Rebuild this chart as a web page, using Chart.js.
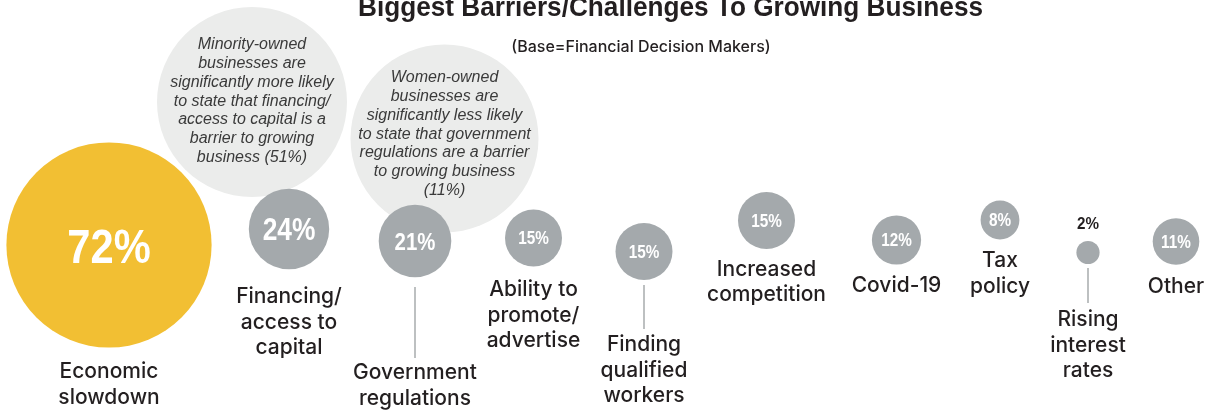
<!DOCTYPE html>
<html>
<head>
<meta charset="utf-8">
<script src="https://cdn.jsdelivr.net/npm/chart.js@4.4.1/dist/chart.umd.min.js"></script>
<style>
  html, body { margin: 0; padding: 0; background: #fff; }
  #wrap { width: 1209px; height: 410px; position: relative; }
</style>
</head>
<body>
<div id="wrap"><canvas id="barriers"></canvas></div>
<script>
// Share of financial decision makers naming each barrier (%)
const categories = [
  ['Economic', 'slowdown'],
  ['Financing/', 'access to', 'capital'],
  ['Government', 'regulations'],
  ['Ability to', 'promote/', 'advertise'],
  ['Finding', 'qualified', 'workers'],
  ['Increased', 'competition'],
  ['Covid-19'],
  ['Tax', 'policy'],
  ['Rising', 'interest', 'rates'],
  ['Other']
];
const shares = [72, 24, 21, 15, 15, 15, 12, 8, 2, 11];

// side notes shown in the light grey circles
const callouts = [
  ['Minority-owned', 'businesses are', 'significantly more likely', 'to state that financing/',
   'access to capital is a', 'barrier to growing', 'business (51%)'],
  ['Women-owned', 'businesses are', 'significantly less likely', 'to state that government',
   'regulations are a barrier', 'to growing business', '(11%)']
];

const titleText = 'Biggest Barriers/Challenges To Growing Business';
const subtitleText = '(Base=Financial Decision Makers)';

// layout, in canvas pixels (the scales run 0..1209 / 0..410)
const bubbleX = [109, 289, 415, 533.5, 644, 766.5, 896.5, 1000, 1088, 1176];
const bubbleY = [245, 229, 241, 238, 251.5, 220.5, 240, 220, 252.5, 241.5];
const labelTop = [372, 297, 373, 290, 345, 269.5, 286, 261, 320, 287];
const leaders = { 2: [287, 358], 4: [285, 329], 8: [268, 303] };
const valueFont = [49, 31, 24, 18, 18, 18, 18, 18, 16, 18];
const calloutX = [252, 444.5];
const calloutY = [102, 138.5];
const calloutR = [95, 94];
const calloutTextY = [45, 78];

const YELLOW = '#F2BF33';
const GREY = '#A4A9AC';
const PALE = '#EBECEB';
const INK = '#231F20';

function radiusFor(v) {
  return 9 + 1.3 * v;
}

// draws text squeezed horizontally to mimic a condensed face
function squeezed(ctx, text, x, y, sx) {
  ctx.save();
  ctx.translate(x, y);
  ctx.scale(sx, 1);
  ctx.fillText(text, 0, 0);
  ctx.restore();
}

const labelPlugin = {
  id: 'barrierLabels',
  afterDatasetsDraw(chart) {
    const ctx = chart.ctx;
    const bubbles = chart.getDatasetMeta(0).data;
    const notes = chart.getDatasetMeta(1).data;

    ctx.save();
    ctx.textAlign = 'center';

    // title, clipped at the top edge
    ctx.fillStyle = INK;
    ctx.textBaseline = 'alphabetic';
    ctx.font = 'bold 28px "Liberation Sans"';
    const tw = ctx.measureText(titleText).width;
    squeezed(ctx, titleText, 670.5, 16, 625 / tw);

    ctx.font = '500 16px Inter';
    ctx.textBaseline = 'middle';
    ctx.fillText(subtitleText, 641, 47.5);

    // callout notes
    ctx.fillStyle = '#3A3A3A';
    ctx.font = 'italic 16px "Liberation Sans"';
    callouts.forEach((lines, c) => {
      lines.forEach((line, k) => {
        ctx.fillText(line, notes[c].x, calloutTextY[c] + k * 18.7);
      });
    });

    bubbles.forEach((el, i) => {
      const r = radiusFor(shares[i]);
      const txt = shares[i] + '%';

      // value label
      ctx.textBaseline = 'alphabetic';
      ctx.font = 'bold ' + valueFont[i] + 'px "Liberation Sans"';
      if (i === 8) {
        ctx.fillStyle = INK;
        squeezed(ctx, txt, el.x, el.y - r - 18 + valueFont[i] * 0.36, 0.95);
      } else {
        ctx.fillStyle = '#FFFFFF';
        squeezed(ctx, txt, el.x, el.y + valueFont[i] * 0.36, 0.85);
      }

      // leader line
      if (leaders[i]) {
        ctx.strokeStyle = '#A7ABAD';
        ctx.lineWidth = 1.5;
        ctx.beginPath();
        ctx.moveTo(el.x, leaders[i][0]);
        ctx.lineTo(el.x, leaders[i][1]);
        ctx.stroke();
      }

      // category name
      ctx.fillStyle = INK;
      ctx.textBaseline = 'middle';
      ctx.font = '500 21px Inter';
      categories[i].forEach((line, k) => {
        ctx.fillText(line, el.x, labelTop[i] + k * 25.5);
      });
    });

    ctx.restore();
  }
};

new Chart(document.getElementById('barriers'), {
  type: 'bubble',
  data: {
    datasets: [
      {
        label: 'Share naming barrier',
        data: shares.map((v, i) => ({ x: bubbleX[i], y: bubbleY[i], r: radiusFor(v) })),
        backgroundColor: shares.map((v, i) => i === 0 ? YELLOW : GREY),
        borderWidth: 0,
        clip: false
      },
      {
        label: 'Notes',
        data: calloutX.map((x, i) => ({ x: x, y: calloutY[i], r: calloutR[i] })),
        backgroundColor: PALE,
        borderWidth: 0,
        clip: false
      }
    ]
  },
  options: {
    responsive: true,
    maintainAspectRatio: false,
    animation: false,
    events: [],
    layout: { padding: 0, autoPadding: false },
    scales: {
      x: { type: 'linear', min: 0, max: 1209, display: false },
      y: { type: 'linear', min: 0, max: 410, reverse: true, display: false }
    },
    plugins: {
      legend: { display: false },
      tooltip: { enabled: false }
    }
  },
  plugins: [labelPlugin]
});
</script>
</body>
</html>
